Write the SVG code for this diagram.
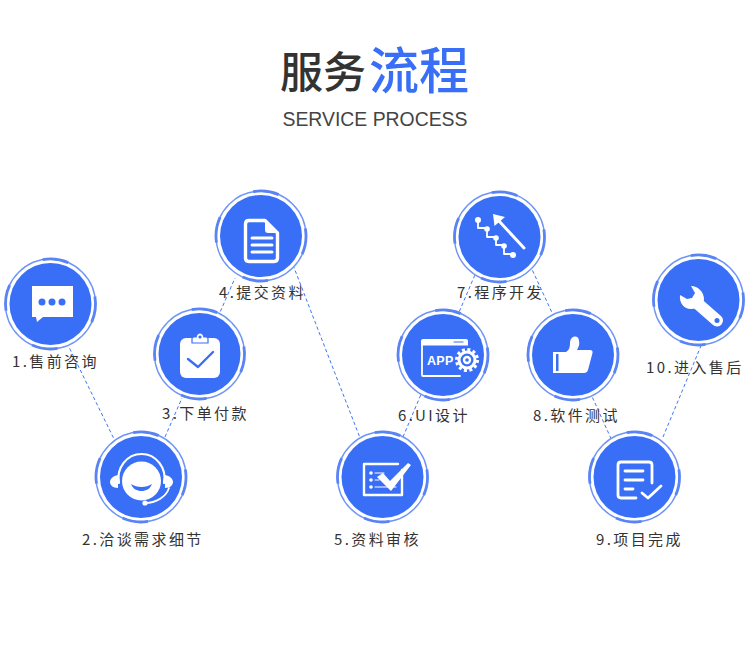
<svg xmlns="http://www.w3.org/2000/svg" width="750" height="651" viewBox="0 0 750 651">
<style>
text{font-family:"Noto Sans CJK SC","Noto Sans",sans-serif}
.lab{font-size:15px;letter-spacing:2.4px;fill:#333}
.w{fill:#fff}
.ws{fill:none;stroke:#fff;stroke-linecap:round;stroke-linejoin:round}
.b{fill:#386ff6}
.bs{fill:none;stroke:#386ff6;stroke-linecap:round;stroke-linejoin:round}
#connectors line{stroke:#4077f5;stroke-width:1;stroke-dasharray:3.500 2.500}
</style>
<defs>
<g id="disc">
<circle r="45" fill="#fff" stroke="#6f94f7" stroke-width="1.400"/>
<circle r="45" fill="none" stroke="#5a84f6" stroke-width="2.800" stroke-dasharray="26 45" transform="rotate(-100)"/>
<circle r="41" class="b"/>
</g>
</defs>
<rect width="750" height="651" fill="#fff"/>
<g id="title">
<text x="280" y="88" font-size="43" font-weight="500" fill="#333">服务</text>
<text x="369" y="89" font-size="50" font-weight="500" fill="#386ff6">流程</text>
<text x="375" y="126" text-anchor="middle" font-size="20" font-weight="300" fill="#444" style="font-family:'Liberation Sans',sans-serif" textLength="185" lengthAdjust="spacingAndGlyphs">SERVICE PROCESS</text>
</g>
<g id="connectors">
<line x1="67" y1="343" x2="115" y2="441"/>
<line x1="165" y1="437" x2="182" y2="398"/>
<line x1="218" y1="317" x2="235" y2="278"/>
<line x1="293" y1="265" x2="362" y2="443"/>
<line x1="403" y1="437" x2="422" y2="392"/>
<line x1="457" y1="317" x2="477" y2="270"/>
<line x1="530" y1="265" x2="554" y2="317"/>
<line x1="590" y1="392" x2="613" y2="443"/>
<line x1="663" y1="437" x2="703" y2="341"/>
</g>
<g id="node1">
<use href="#disc" x="50.500" y="304"/>
<path class="w" d="M32 286H73V317H43L37 322L36 317H32Z"/>
<circle class="b" cx="42" cy="302" r="3.500"/><circle class="b" cx="52" cy="302" r="3.500"/><circle class="b" cx="62" cy="302" r="3.500"/>
<text class="lab" x="12" y="367">1.售前咨询</text>
</g>
<g id="node2">
<use href="#disc" x="141" y="477"/>
<path class="ws" stroke-width="2.200" d="M119 483A23 24 0 1 1 164 483"/>
<circle class="w" cx="141.500" cy="481" r="19.500"/>
<path class="w" d="M118 475C113 476 110 479 110 482C110 485 113 488 118 488Z"/>
<path class="w" d="M165 475C170 476 173 479 173 482C173 485 170 488 165 488Z"/>
<path class="b" d="M131 484C137 488 146 488 152 484C150 489 146 491 141.500 491C137 491 133 489 131 484Z"/>
<path class="ws" stroke-width="1.800" d="M169 488C166 497 156 503 145 503"/>
<circle class="w" cx="145" cy="503" r="2.600"/>
<text class="lab" x="82" y="545">2.洽谈需求细节</text>
</g>
<g id="node3">
<use href="#disc" x="199.500" y="354"/>
<rect class="w" x="180" y="338" width="40" height="40" rx="6"/>
<path class="w" d="M192 343V339Q192 337 194 337H196Q197 333 200 333Q203 333 204 337H206Q208 337 208 339V343Z" stroke="#386ff6" stroke-width="1.200"/>
<circle class="b" cx="200" cy="337" r="1.600"/>
<path class="bs" stroke-width="2.400" d="M188 359L198 367L213 352"/>
<text class="lab" x="162" y="419">3.下单付款</text>
</g>
<g id="node4">
<use href="#disc" x="261" y="236"/>
<path class="ws" stroke-width="3.400" d="M249 220.500H265L277.500 233V258Q277.500 261.500 274 261.500H249Q245.500 261.500 245.500 258V224Q245.500 220.500 249 220.500Z"/>
<path class="w" d="M265 220L278 233H268Q265 233 265 230Z"/>
<path class="ws" stroke-width="3" d="M252 238H272M252 245H272M252 252H272"/>
<text class="lab" x="219" y="298">4.提交资料</text>
</g>
<g id="node5">
<use href="#disc" x="382.500" y="477"/>
<path class="ws" stroke-width="2.400" d="M402 470V495H364V464H398"/>
<circle class="w" cx="371" cy="473" r="1.800"/><circle class="w" cx="371" cy="480" r="1.800"/><circle class="w" cx="371" cy="487" r="1.800"/>
<path class="ws" stroke-width="1" d="M375 473H384M375 480H379M375 487H396"/>
<path class="w" d="M377 477L383 473L390 481L408 463L411 465L391 491Z"/>
<text class="lab" x="334" y="545">5.资料审核</text>
</g>
<g id="node6">
<use href="#disc" x="443" y="355"/>
<path class="w" d="M423 339H466Q468 339 468 341V345.500H421V341Q421 339 423 339Z"/>
<path class="ws" stroke-width="1.800" d="M422 345V375Q422 376 423 376H460"/>
<path class="bs" stroke-width="1.200" d="M454 342H463"/>
<text x="427" y="364.500" font-size="12.500" font-weight="700" fill="#fff" letter-spacing="0.300" style="font-family:'Liberation Sans',sans-serif">APP</text>
<circle cx="467" cy="360" r="10.500" fill="none" stroke="#fff" stroke-width="3" stroke-dasharray="3 2.500"/>
<circle class="w" cx="467" cy="360" r="9.500"/>
<circle class="b" cx="467" cy="360" r="6.500"/>
<circle class="w" cx="467" cy="360" r="4.200"/>
<circle class="b" cx="467" cy="360" r="1.800"/>
<text class="lab" x="398" y="421">6.UI设计</text>
</g>
<g id="node7">
<use href="#disc" x="499.500" y="237"/>
<path class="ws" stroke-width="3" d="M524 248L499 221"/>
<path class="w" d="M493 214L494.500 226L505 217Z"/>
<path class="ws" stroke-width="1.800" d="M478 220V228H487V237H496V245H504V254H513"/>
<circle class="w" cx="478" cy="220" r="3"/><circle class="w" cx="487" cy="229" r="2.800"/><circle class="w" cx="496" cy="238" r="2.800"/><circle class="w" cx="504" cy="246" r="2.800"/><circle class="w" cx="513" cy="255" r="3"/>
<text class="lab" x="457" y="298">7.程序开发</text>
</g>
<g id="node8">
<use href="#disc" x="573" y="355"/>
<path class="w" d="M553 352H566C570 350 570 345 570 342C571 335 579 335 579 341C580 345 578 348 577 350H590Q593 350 592.500 353L588 370Q587 373 584 373H553Z"/>
<rect class="b" x="556" y="354" width="2.500" height="17"/>
<text class="lab" x="533" y="421">8.软件测试</text>
</g>
<g id="node9">
<use href="#disc" x="634.500" y="477"/>
<path class="ws" stroke-width="2.800" d="M652 483V465Q652 462 649 462H621Q618 462 618 465V495Q618 498 621 498H636"/>
<path class="ws" stroke-width="2.800" d="M625 471H643M625 480H643M625 489H633"/>
<path class="ws" stroke-width="2.800" d="M642 493L648 498L661 486"/>
<text class="lab" x="596" y="545">9.项目完成</text>
</g>
<g id="node10">
<use href="#disc" x="698.500" y="300"/>
<path class="ws" stroke-width="12" d="M697 303L717 320.500"/>
<path class="w" d="M691 286C698 286 704 292 704 299C704 306 697 309 691 309C684 309 679 303 680 295L687 299L692 298L695 293Z"/>
<circle class="b" cx="717" cy="320.500" r="2.500"/>
<text class="lab" x="646" y="373">10.进入售后</text>
</g>
</svg>
